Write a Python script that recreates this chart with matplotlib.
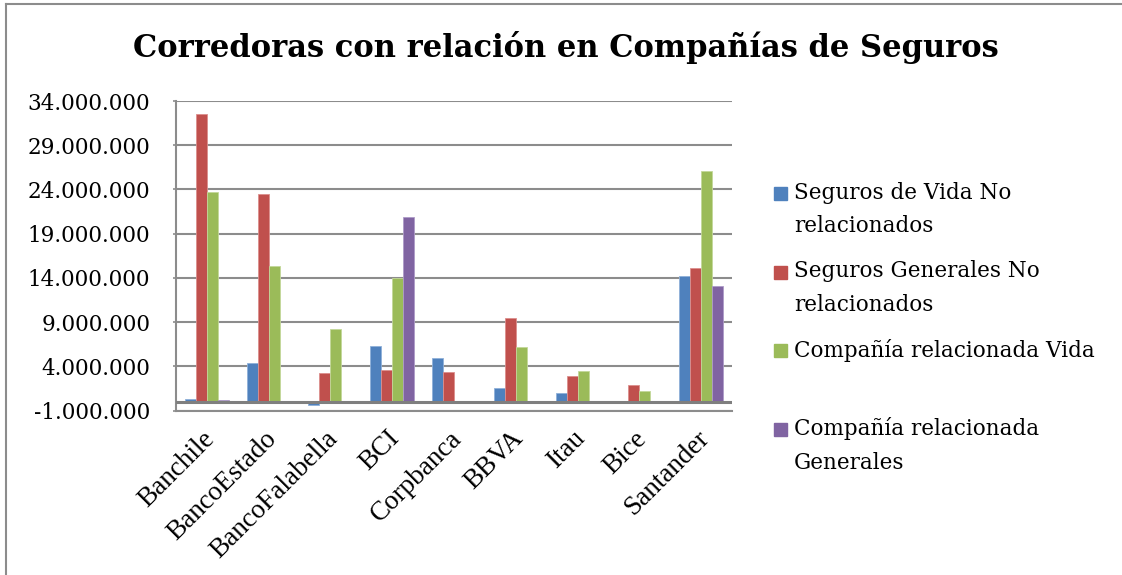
import matplotlib
matplotlib.use("Agg")
import matplotlib.pyplot as plt
import matplotlib.transforms as mtransforms
from matplotlib.lines import Line2D
from matplotlib.patches import Rectangle
import numpy as np

categories = ["Banchile", "BancoEstado", "BancoFalabella", "BCI", "Corpbanca",
              "BBVA", "Itau", "Bice", "Santander"]
series_names = ["Seguros de Vida No\nrelacionados",
                "Seguros Generales No\nrelacionados",
                "Compañía relacionada Vida\n ",
                "Compañía relacionada\nGenerales"]
vida_no_rel = [340000, 4360000, -300000, 6280000, 4930000, 1540000, 970000, 150000, 14240000]
generales_no_rel = [32500000, 23500000, 3280000, 3650000, 3350000, 9450000, 2970000, 1920000, 15140000]
rel_vida = [23700000, 15400000, 8250000, 13970000, 0, 6170000, 3540000, 1280000, 26060000]
rel_generales = [230000, 0, 0, 20940000, 0, 0, 0, 0, 13060000]
colors = ["#4F81BD", "#C0504D", "#9BBB59", "#8064A2"]
edge_colors = ["#8FB0D9", "#DC8F8D", "#C3D89A", "#AE9BC8"]
yticks = [-1000000, 4000000, 9000000, 14000000, 19000000, 24000000, 29000000, 34000000]
title = "Corredoras con relación en Compañías de Seguros"

FONT = "DejaVu Serif"
XFONT = "Liberation Serif"
W, H = 1122, 575
fig = plt.figure(figsize=(W / 100, H / 100), dpi=100)
ax = fig.add_axes([176 / W, 1 - 410.7 / H, (732 - 176) / W, (410.7 - 101) / H])

series = [vida_no_rel, generales_no_rel, rel_vida, rel_generales]
x = np.arange(len(categories))
bw = 0.178
for i, vals in enumerate(series):
    ax.bar(x + (i - 1.5) * bw, vals, width=bw, color=colors[i],
           edgecolor=edge_colors[i], linewidth=0.6, zorder=3)

ax.set_xlim(-0.5, len(categories) - 0.5)
ax.set_ylim(yticks[0], yticks[-1])
ax.set_yticks(yticks)
ax.set_yticklabels([f"{v:,}".replace(",", ".") for v in yticks],
                   fontfamily=FONT, fontsize=15.5)
ax.yaxis.grid(True, color="#8C8C8C", linewidth=1.5, zorder=0)
ax.axhline(0, color="#7F7F7F", linewidth=2.2, zorder=4)
ax.set_xticks(x)
ax.set_xticklabels(categories, rotation=45, ha="right", va="top",
                   rotation_mode="anchor", fontfamily=XFONT, fontsize=19.5)
ax.tick_params(axis="x", length=0, pad=11)
ax.tick_params(axis="y", length=2.5, color="#8C8C8C", width=1.2, pad=16)
shift = mtransforms.ScaledTranslation(-5 / 100, 0, fig.dpi_scale_trans)
for lab in ax.get_xticklabels():
    lab.set_transform(lab.get_transform() + shift)
for s in ["top", "right"]:
    ax.spines[s].set_visible(False)
ax.spines["left"].set_color("#8C8C8C")
ax.spines["left"].set_linewidth(1.5)
ax.spines["bottom"].set_color("#8C8C8C")
ax.spines["bottom"].set_linewidth(1.5)

fig.text(566 / W, 1 - 48 / H, title, ha="center", va="center",
         fontfamily=FONT, fontweight="bold", fontsize=22)

# legend
y0 = 194
step = 78.5
for i, name in enumerate(series_names):
    yc = y0 + i * step
    fig.patches.append(Rectangle((774 / W, 1 - (yc + 6) / H), 13 / W, 13 / H,
                                 transform=fig.transFigure, color=colors[i]))
    fig.text(794 / W, 1 - (yc - 12) / H, name, ha="left", va="top",
             fontfamily=FONT, fontsize=15.5, linespacing=1.65)

# chart border
fig.add_artist(Line2D([5.5 / W, 5.5 / W], [0, 1 - 4 / H], transform=fig.transFigure,
                      color="#8C8C8C", linewidth=1.5))
fig.add_artist(Line2D([5.5 / W, 1], [1 - 4 / H, 1 - 4 / H], transform=fig.transFigure,
                      color="#8C8C8C", linewidth=1.5))

fig.savefig("out.png", dpi=100)
